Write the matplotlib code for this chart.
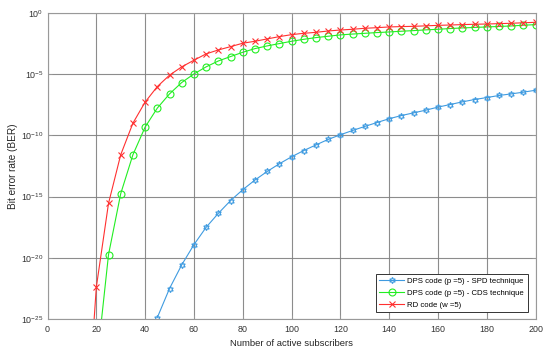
import numpy as np
import matplotlib
matplotlib.use("Agg")
import matplotlib.pyplot as plt
from matplotlib.ticker import FixedLocator, FuncFormatter, NullLocator

plt.rcParams['font.family'] = ['Liberation Sans', 'DejaVu Sans']

# ---- data (log10 of BER) ----
x_spd = [45, 50, 55, 60, 65, 70, 75, 80, 85, 90, 95, 100, 105, 110, 115, 120,
         125, 130, 135, 140, 145, 150, 155, 160, 165, 170, 175, 180, 185, 190, 195, 200]
log_spd = [-24.88, -22.51, -20.58, -18.93, -17.51, -16.37, -15.33, -14.44, -13.65, -12.95,
           -12.32, -11.75, -11.24, -10.78, -10.33, -9.95, -9.60, -9.27, -8.95, -8.64,
           -8.38, -8.16, -7.94, -7.69, -7.48, -7.26, -7.07, -6.91, -6.74, -6.61, -6.47, -6.31]

x_cds = [20, 25, 30, 35, 40, 45, 50, 55, 60, 65, 70, 75, 80, 85, 90, 95, 100, 105, 110,
         115, 120, 125, 130, 135, 140, 145, 150, 155, 160, 165, 170, 175, 180, 185, 190, 195, 200]
log_cds = [-29.0, -19.74, -14.76, -11.58, -9.32, -7.77, -6.61, -5.68, -4.98, -4.40, -3.92,
           -3.56, -3.21, -2.91, -2.69, -2.50, -2.31, -2.15, -2.01, -1.90, -1.79, -1.72, -1.66,
           -1.60, -1.55, -1.49, -1.44, -1.38, -1.33, -1.27, -1.22, -1.18, -1.14, -1.10, -1.06,
           -1.00, -0.95]

x_rd = [15, 20, 25, 30, 35, 40, 45, 50, 55, 60, 65, 70, 75, 80, 85, 90, 95, 100, 105, 110,
        115, 120, 125, 130, 135, 140, 145, 150, 155, 160, 165, 170, 175, 180, 185, 190, 195, 200]
log_rd = [-37.0, -22.4, -15.55, -11.58, -9.0, -7.28, -6.01, -5.08, -4.40, -3.86, -3.34,
          -3.02, -2.75, -2.47, -2.31, -2.12, -1.93, -1.77, -1.66, -1.58, -1.47, -1.39, -1.33,
          -1.25, -1.20, -1.14, -1.11, -1.09, -1.05, -1.01, -0.98, -0.95, -0.92, -0.90, -0.87,
          -0.84, -0.80, -0.76]

labels = ['DPS code (p =5) - SPD technique',
          'DPS code (p =5) - CDS technique',
          'RD code (w =5)']
x_label = 'Number of active subscribers'
y_label = 'Bit error rate (BER)'
x_ticks = [0, 20, 40, 60, 80, 100, 120, 140, 160, 180, 200]
y_tick_exps = [0, -5, -10, -15, -20, -25]

ber_spd = 10.0 ** np.array(log_spd)
ber_cds = 10.0 ** np.array(log_cds)
ber_rd = 10.0 ** np.array(log_rd)

fig = plt.figure(figsize=(5.5, 3.56), dpi=100)
ax = fig.add_axes([0.0864, 0.104, 0.8873, 0.8595])

c_blue = '#3f9be0'
c_green = '#22ee22'
c_red = '#ff3030'

ax.plot(x_spd, ber_spd, color=c_blue, lw=0.8, marker=(6, 1, 0), ms=4.5,
        mfc='none', mec=c_blue, mew=0.8, label=labels[0])
ax.plot(x_cds, ber_cds, color=c_green, lw=0.8, marker='o', ms=5,
        mfc='none', mec=c_green, mew=0.8, label=labels[1])
ax.plot(x_rd, ber_rd, color=c_red, lw=0.8, marker='x', ms=4.5,
        mfc='none', mec=c_red, mew=0.8, label=labels[2])

ax.set_yscale('log')
ax.set_xlim(0, 200)
ax.set_ylim(1e-25, 1e0)
ax.xaxis.set_major_locator(FixedLocator(x_ticks))
ax.yaxis.set_major_locator(FixedLocator([10.0 ** e for e in y_tick_exps]))
ax.yaxis.set_minor_locator(NullLocator())
ax.yaxis.set_major_formatter(FuncFormatter(
    lambda v, p: r'$\mathregular{10^{%d}}$' % int(round(np.log10(v)))))

ax.grid(True, which='major', color='#808080', lw=0.8, alpha=0.9)
ax.set_axisbelow(True)
for s in ax.spines.values():
    s.set_color('#999999')
    s.set_linewidth(0.8)
ax.tick_params(direction='in', length=3, width=0.6, colors='#999999',
               labelcolor='#333333', labelsize=6.4, top=True, right=True)
ax.tick_params(axis='x', pad=4)
ax.tick_params(axis='y', pad=3)

ax.set_xlabel(x_label, fontsize=6.8, color='#262626', labelpad=4)
ax.set_ylabel(y_label, fontsize=7.2, color='#262626', labelpad=2)

leg = ax.legend(loc='lower right', fontsize=5.6, frameon=True, fancybox=False,
                borderpad=0.45, handlelength=3.2, handletextpad=0.4,
                labelspacing=0.55, bbox_to_anchor=(0.992, 0.01))
leg.get_frame().set_edgecolor('#333333')
leg.get_frame().set_linewidth(0.7)
leg.get_frame().set_alpha(1.0)

fig.savefig('out.png', dpi=100)
